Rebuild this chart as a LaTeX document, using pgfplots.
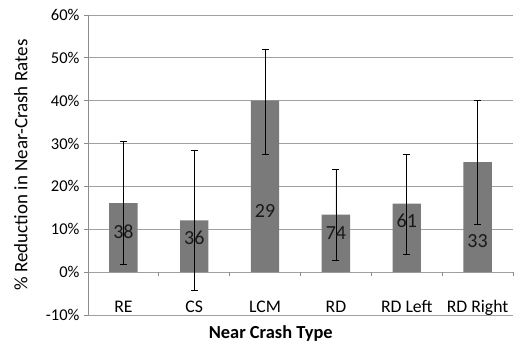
\documentclass[border=0pt]{standalone}
\usepackage{fontspec}
\setmainfont{Carlito}
\usepackage{pgfplots}
\usepackage{pgfplotstable}
\pgfplotsset{compat=1.18}
\definecolor{barfill}{RGB}{122,122,122}
\definecolor{gridc}{RGB}{160,160,160}
\definecolor{axisc}{RGB}{140,140,140}

\pgfplotstableread{
x y ep em
0 16.1 14.4 14.3
1 12.1 16.3 16.3
2 40.0 12.1 12.4
3 13.4 10.5 10.6
4 16.0 11.6 11.8
5 25.7 14.5 14.5
}\bars

\pgfplotstableread{
x y lab
0 9.4 38
1 8.1 36
2 14.3 29
3 9.0 74
4 11.9 61
5 7.2 33
}\labs

\begin{document}
\begin{tikzpicture}
\useasboundingbox (-88bp,-27bp) rectangle (429bp,315bp);
\begin{axis}[
  scale only axis,
  width=425bp, height=300bp,
  xmin=-0.5, xmax=5.5,
  ymin=-10, ymax=60,
  axis x line*=bottom,
  axis y line*=left,
  x axis line style={gridc, line width=0.8bp},
  y axis line style={axisc, line width=0.8bp},
  xtick={0,...,5},
  xticklabels={RE,CS,LCM,RD,RD Left,RD Right},
  x tick style={draw=none},
  xticklabel style={anchor=base, yshift=6.5bp, font=\fontsize{17.7bp}{19bp}\selectfont},
  ytick={-10,0,...,60},
  yticklabels={-10\%,0\%,10\%,20\%,30\%,40\%,50\%,60\%},
  y tick style={axisc, line width=0.8bp},
  tick align=outside,
  major tick length=4bp,
  yticklabel style={font=\fontsize{16.5bp}{18bp}\selectfont, xshift=-1bp},
  ymajorgrids,
  grid style={gridc, line width=0.8bp},
  ylabel={\% Reduction in Near-Crash Rates},
  ylabel style={at={(axis description cs:-0.158,0.5)}, anchor=center, font=\fontsize{19bp}{21bp}\selectfont},
  xlabel={\textbf{Near Crash Type}},
  xlabel style={at={(axis description cs:0.43,-0.06)}, anchor=center, font=\fontsize{18.4bp}{20bp}\selectfont},
  clip=false,
]
\addplot[ybar, bar width=0.4, bar shift=0pt, fill=barfill, draw=none,
  error bars/.cd, y dir=both, y explicit,
  error bar style={draw=black, line width=0.7bp},
  error mark=-,
  error mark options={rotate=90, draw=black, mark size=3.5bp, line width=0.7bp}]
  table[x=x, y=y, y error plus=ep, y error minus=em] {\bars};
\addplot[ycomb, axisc, line width=0.8bp, no markers]
  coordinates {(0.5,-0.95) (1.5,-0.95) (2.5,-0.95) (3.5,-0.95) (4.5,-0.95) (5.5,-0.95)};
\addplot[draw=none, no markers, nodes near coords, point meta=explicit symbolic,
  every node near coord/.append style={anchor=center, inner sep=0pt, text=black!90, font=\fontsize{20bp}{22bp}\selectfont}]
  table[x=x, y=y, meta=lab] {\labs};
\end{axis}
\end{tikzpicture}
\end{document}
